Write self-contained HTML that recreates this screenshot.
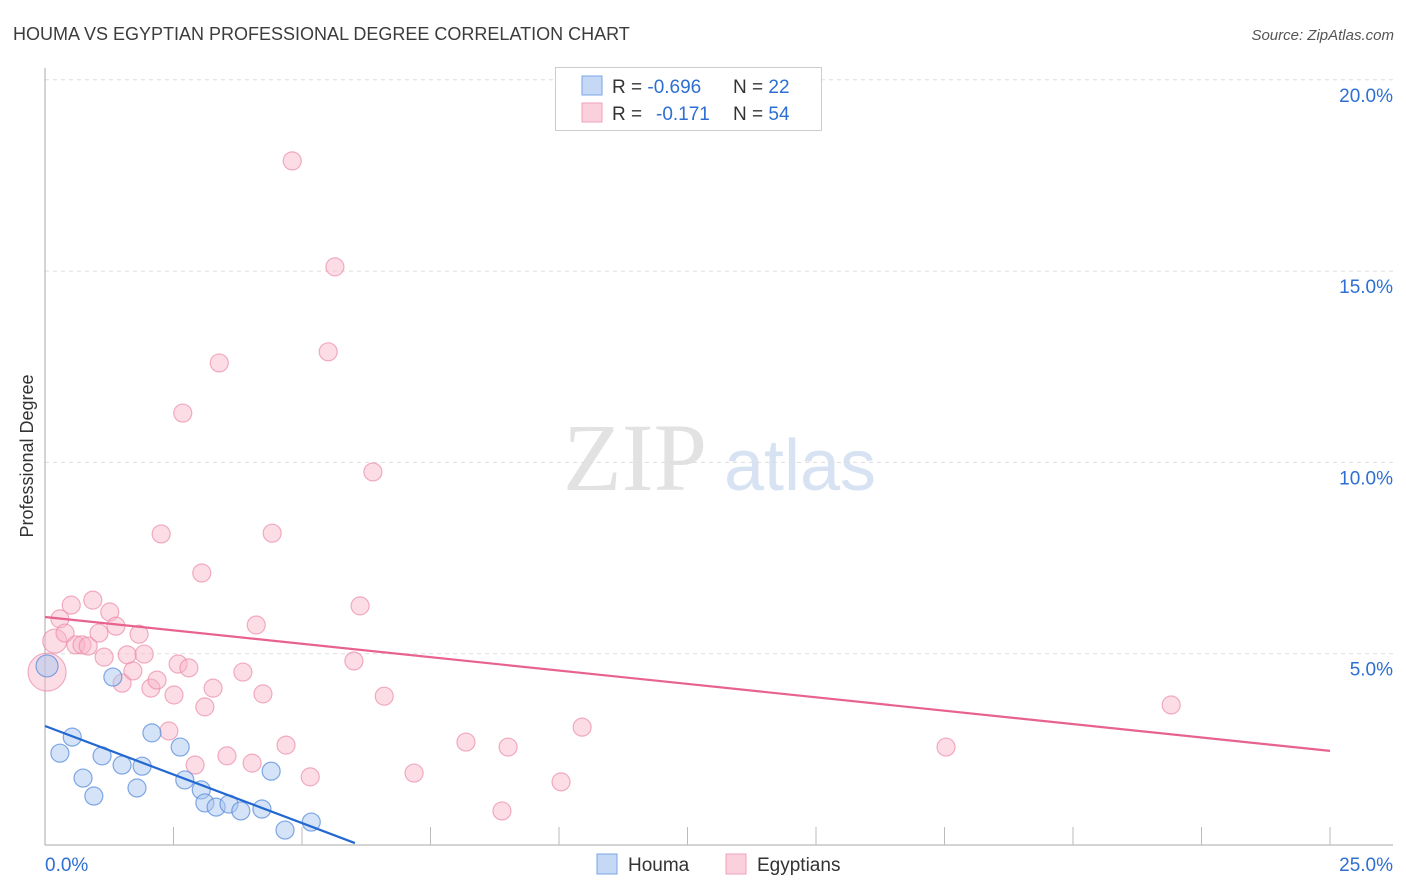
<!DOCTYPE html>
<html><head><meta charset="utf-8"><style>
body{margin:0;background:#fff;font-family:"Liberation Sans",sans-serif;}
svg{display:block}
</style></head><body>
<svg id="c" width="1406" height="892">
<text x="13" y="40" font-size="18" fill="#3c3c3c">HOUMA VS EGYPTIAN PROFESSIONAL DEGREE CORRELATION CHART</text>
<text x="1394" y="40" font-size="15" fill="#555" text-anchor="end" font-style="italic">Source: ZipAtlas.com</text>
<text x="33" y="456" font-size="18" fill="#333" transform="rotate(-90 33 456)" text-anchor="middle">Professional Degree</text>
<text x="635" y="490" font-size="96" fill="#e2e2e2" font-family="Liberation Serif,serif" text-anchor="middle">ZIP</text>
<text x="800" y="490" font-size="72" fill="#d7e3f3" text-anchor="middle">atlas</text>
<g id="grid"></g><g id="pts"></g><g id="lines"></g>
<g>
<rect x="555.5" y="67.5" width="266" height="63" fill="#fff" stroke="#ccc"/>
<rect x="582" y="76" width="20" height="19" fill="#c5d8f5" stroke="#7aa6e6"/>
<rect x="582" y="103" width="20" height="19" fill="#fbd0dd" stroke="#f0a0b8"/>
<text x="612" y="93" font-size="19" fill="#333">R = <tspan fill="#2d6fd2">-0.696</tspan><tspan x="733">N = </tspan><tspan fill="#2d6fd2">22</tspan></text>
<text x="612" y="120" font-size="19" fill="#333">R = <tspan x="656" fill="#2d6fd2">-0.171</tspan><tspan x="733">N = </tspan><tspan fill="#2d6fd2">54</tspan></text>
</g>
<g>
<rect x="597" y="854" width="20" height="20" fill="#c5d8f5" stroke="#7aa6e6"/>
<text x="628" y="871" font-size="19" fill="#333">Houma</text>
<rect x="726" y="854" width="20" height="20" fill="#fbd0dd" stroke="#f0a0b8"/>
<text x="757" y="871" font-size="19" fill="#333">Egyptians</text>
</g>
</svg>
<script>
const yTicks=[5,10,15,20];
const xTickLabels=["0.0%","25.0%"];
const houmaX=[0.04,0.29,0.53,0.74,0.95,1.11,1.32,1.50,1.79,1.89,2.08,2.63,2.72,3.04,3.11,3.33,3.58,3.81,4.22,4.40,4.67,5.18];
const houmaY=[4.68,2.40,2.82,1.75,1.28,2.33,4.39,2.09,1.49,2.06,2.93,2.56,1.70,1.44,1.10,0.99,1.07,0.89,0.94,1.93,0.39,0.60];
const egyX=[0.04,0.19,0.29,0.39,0.51,0.60,0.72,0.84,0.93,1.05,1.15,1.26,1.38,1.50,1.60,1.71,1.83,1.93,2.06,2.18,2.26,2.41,2.51,2.59,2.68,2.80,2.92,3.05,3.11,3.27,3.39,3.54,3.85,4.03,4.11,4.24,4.42,4.69,4.81,5.16,5.51,5.64,6.01,6.13,6.38,6.60,7.18,8.19,8.89,9.01,10.04,10.45,17.53,21.91];
const egyY=[4.52,5.33,5.91,5.54,6.27,5.23,5.23,5.20,6.40,5.54,4.91,6.09,5.72,4.23,4.97,4.55,5.51,4.99,4.10,4.31,8.13,2.98,3.92,4.73,11.29,4.63,2.09,7.11,3.61,4.10,12.60,2.33,4.52,2.14,5.75,3.95,8.15,2.61,17.88,1.78,12.89,15.11,4.81,6.25,9.75,3.89,1.88,2.69,0.89,2.56,1.65,3.08,2.56,3.66];
const houmaTrend=[3.11,0.05];const houmaTrendX=[0,6.03];
const egyTrend=[5.96,2.46];const egyTrendX=[0,25];
const NS="http://www.w3.org/2000/svg";
const X=v=>45+v/25*1285, Y=v=>845-v/5*191.3;
function mk(t,a,p){const e=document.createElementNS(NS,t);for(const k in a)e.setAttribute(k,a[k]);p.appendChild(e);return e;}
const g=document.getElementById('grid');
yTicks.forEach(t=>{
 const l=mk('line',{x1:45,x2:1393,y1:Y(t),y2:Y(t),stroke:'#ddd','stroke-dasharray':'4,4'},g);
 
 
 const tx=mk('text',{x:1393,y:Y(t)+22,'font-size':19,fill:'#2d6fd2','text-anchor':'end'},g);tx.textContent=t.toFixed(1)+'%';
 
 
});
mk('line',{x1:45,x2:45,y1:68,y2:845,stroke:'#aaa'},g);
mk('line',{x1:45,x2:1393,y1:845,y2:845,stroke:'#aaa'},g);
for(let i=1;i<=10;i++){const x=X(i*2.5);const t=mk('line',{x1:x,x2:x,y1:827,y2:845,stroke:'#bbb'},g);
 
 }
[[0,'start',45],[25,'end',1393]].forEach((d,i)=>{const t=mk('text',{x:d[2],y:871,'font-size':19,fill:'#2d6fd2','text-anchor':d[1]},g);t.textContent=xTickLabels[i];
 
 });
const p=document.getElementById('pts');
egyX.forEach((x,i)=>{const r=i==0?19:(i==1?12:9);const c=mk('circle',{cx:X(x),cy:Y(egyY[i]),r:r,fill:'rgba(248,180,200,0.45)',stroke:'rgba(235,140,170,0.7)','stroke-width':1.2},p);
 
 });
houmaX.forEach((x,i)=>{const r=i==0?11:9;const c=mk('circle',{cx:X(x),cy:Y(houmaY[i]),r:r,fill:'rgba(170,200,240,0.5)',stroke:'rgba(90,140,220,0.75)','stroke-width':1.2},p);
 
 });
const L=document.getElementById('lines');
const l1=mk('line',{x1:X(egyTrendX[0]),y1:Y(egyTrend[0]),x2:X(egyTrendX[1]),y2:Y(egyTrend[1]),stroke:'#e8628f','stroke-width':2.2},L);


const l2=mk('line',{x1:X(houmaTrendX[0]),y1:Y(houmaTrend[0]),x2:X(houmaTrendX[1]),y2:Y(houmaTrend[1]),stroke:'#2268d0','stroke-width':2.2},L);


</script>
</body></html>
